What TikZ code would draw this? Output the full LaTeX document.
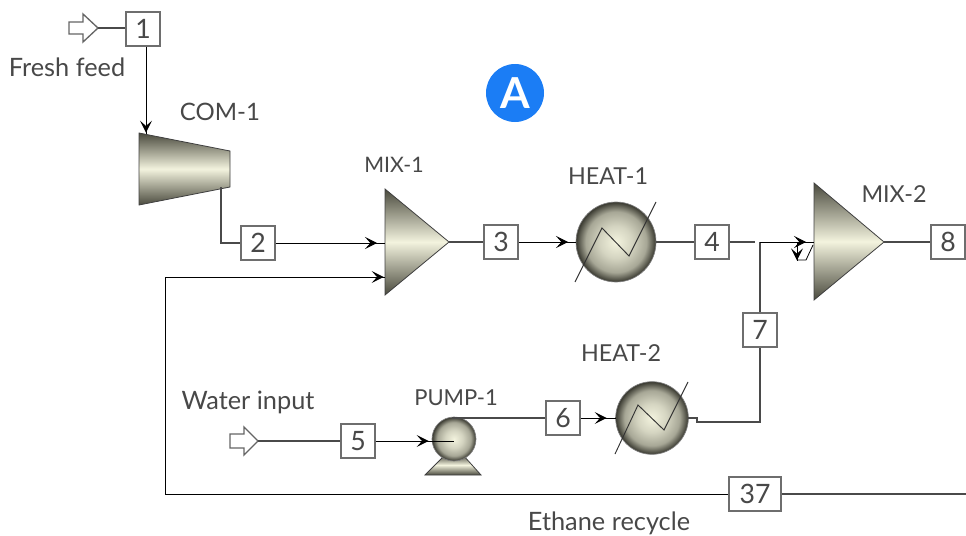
\documentclass[tikz,border=0pt]{standalone}
\usepackage{fontspec}
\setmainfont{Lato}
\usetikzlibrary{arrows.meta,decorations.markings}
\definecolor{boxgray}{HTML}{6E6E6E}
\definecolor{linegray}{HTML}{4A4A4A}
\definecolor{txtgray}{HTML}{484848}
\definecolor{metalD}{HTML}{4A4A3E}
\definecolor{metalL}{HTML}{F3F3DE}
\definecolor{badge}{HTML}{1B7DF5}
\pgfdeclareverticalshading{metal}{100bp}{color(0bp)=(metalD); color(25bp)=(metalD); color(50bp)=(metalL); color(75bp)=(metalD); color(100bp)=(metalD)}
\pgfdeclareradialshading{vessel}{\pgfpoint{0bp}{0bp}}{color(0bp)=(metalL); color(10bp)=(metalL!82!metalD); color(19bp)=(metalL!55!metalD); color(25bp)=(metalD!75!black); color(50bp)=(metalD)}
\tikzset{
  stream/.style={draw=boxgray,line width=1.5pt,fill=white,minimum width=25pt,minimum height=25pt,inner sep=0pt,text=txtgray,font=\fontsize{20}{20}\selectfont},
  lbl/.style={text=txtgray,inner sep=0pt,font=\fontsize{19}{19}\selectfont},
  tag/.style={text=txtgray,inner sep=0pt,font=\fontsize{17.5}{17.5}\selectfont},
  pipe/.style={draw=linegray,line width=1pt},
  flow/.style={draw=black,line width=0.75pt,postaction={decorate},decoration={markings,mark=at position -#1 with {\arrow{Stealth[length=9pt,width=9pt,inset=4pt]}}}},
  equip/.style={draw=black!75,line width=0.6pt,shading=metal},
  ball/.style={draw=black!50,line width=0.5pt,shading=vessel},
  zig/.style={draw=black!80,line width=0.7pt},
  feed/.style={draw=linegray!85,line width=1pt,fill=white}
}
\begin{document}
\begin{tikzpicture}[x=0.75pt,y=-0.75pt]
\useasboundingbox (0,0) rectangle (966,535);
% named ports
\coordinate (feedA) at (98,28);
\coordinate (feedB) at (258,441);
\coordinate (comIn) at (146,134);
\coordinate (comOut) at (221,187);
\coordinate (cor2) at (221,243);
\coordinate (mix1a) at (385,243);
\coordinate (mix1b) at (385,277);
\coordinate (mix1out) at (449,242);
\coordinate (h1in) at (576,242);
\coordinate (h1out) at (656,242);
\coordinate (mix2in) at (814,242);
\coordinate (mix2out) at (884,242);
\coordinate (j4) at (755,242);
\coordinate (j7) at (760,242);
\coordinate (h2in) at (616,418);
\coordinate (h2outA) at (688,418);
\coordinate (h2outB) at (697,418);
\coordinate (h2outC) at (697,422);
\coordinate (cor7) at (760,422);
\coordinate (pumpIn) at (454,441);
\coordinate (pumpOut) at (452,418);
\coordinate (recE) at (966,494);
\coordinate (recA) at (165,494);
\coordinate (recB) at (165,277);
\coordinate (out8) at (966,242);
% equipment
\shade[equip] (139,133) -- (230,151) -- (230,187) -- (139,205) -- cycle;
\shade[equip] (385,189) -- (449,242) -- (385,295) -- cycle;
\shade[equip] (814,183) -- (884,242) -- (814,300) -- cycle;
\shade[equip] (425,475) -- (445,455) -- (463,455) -- (481,475) -- cycle;
\node[ball,circle,minimum size=60pt,inner sep=0pt] (heatA) at (616,242) {};
\node[ball,circle,minimum size=54.5pt,inner sep=0pt] (heatB) at (652,418) {};
\node[ball,circle,minimum size=33pt,inner sep=0pt] (pumpBody) at (454,439) {};
\draw[zig] (575,282) -- (602,228) -- (629,256) -- (656,202);
\draw[zig] (615,454) -- (638,405) -- (664,430) -- (688,382);
% stream boxes
\node[stream] (s1) at (143,29) {1};
\node[stream] (s2) at (258,243) {2};
\node[stream] (s3) at (501,242) {3};
\node[stream] (s4) at (712,242) {4};
\node[stream] (s5) at (358,441) {5};
\node[stream] (s6) at (563,418) {6};
\node[stream] (s7) at (760,330) {7};
\node[stream] (s8) at (948,242) {8};
\node[stream,minimum width=39pt] (s37) at (755,494) {37};
% feed arrows
\draw[feed] (69,22) -- (83,22) -- (83,14) -- (98,28) -- (83,42) -- (83,34) -- (69,34) -- cycle;
\draw[feed] (230,434) -- (244,434) -- (244,427) -- (258,441) -- (244,455) -- (244,448) -- (230,448) -- cycle;
% connectors
\draw[pipe] (feedA) -- (feedA -| s1.west);
\draw[flow=1pt] (s1.south -| comIn) -- (comIn);
\draw[pipe] (comOut) -- (cor2) -- (s2.west);
\draw[flow=6pt] (s2.east |- mix1a) -- (mix1a);
\draw[pipe] (recE) -- (s37.east);
\draw[flow=1pt] (s37.west) -- (recA) -- (recB) -- (mix1b);
\draw[pipe] (mix1out) -- (s3.west);
\draw[flow=6pt] (s3.east) -- (h1in);
\draw[pipe] (h1out) -- (s4.west);
\draw[pipe] (s4.east) -- (j4);
\draw[pipe] (s7.north) -- (j7);
\draw[flow=6pt] (j7) -- (mix2in);
\draw[pipe] (mix2out) -- (s8.west);
\draw[pipe] (s8.east) -- (out8);
\draw[pipe] (feedB) -- (s5.west);
\draw[flow=19pt] (s5.east) -- (pumpIn);
\draw[pipe] (pumpOut) -- (s6.west);
\draw[flow=7pt] (s6.east) -- (h2in);
\draw[pipe] (h2outA) -- (h2outB) -- (h2outC) -- (cor7) -- (s7.south);
% mixer glyph
\draw[draw=black,line width=0.6pt] (813,245) -- (806,260) -- (797,260);
\coordinate (gTop) at (797,242);
\coordinate (gBot) at (797,261);
\draw[flow=0.5pt,line width=0.7pt] (gTop) -- (gBot);
% labels
\node[lbl] (tFresh) at (67,67) {Fresh feed};
\node[tag] (tCom) at (220,112) {\fontsize{18}{18}\selectfont COM-1};
\node[tag,font=\fontsize{16}{16}\selectfont] (tM1) at (394,165) {MIX-1};
\node[tag] (tH1) at (608,176) {HEAT-1};
\node[tag] (tM2) at (894,194) {MIX-2};
\node[tag] (tH2) at (621,353) {HEAT-2};
\node[tag,font=\fontsize{16.5}{16.5}\selectfont] (tP) at (456,398) {PUMP-1};
\node[lbl] (tW) at (248,402) {Water input};
\node[lbl] (tE) at (609,523) {Ethane recycle};
\node[circle,fill=badge,text=white,minimum size=43.5pt,inner sep=0pt,font=\fontsize{32}{32}\selectfont\bfseries] (badgeA) at (515,93) {A};
\end{tikzpicture}
\end{document}
